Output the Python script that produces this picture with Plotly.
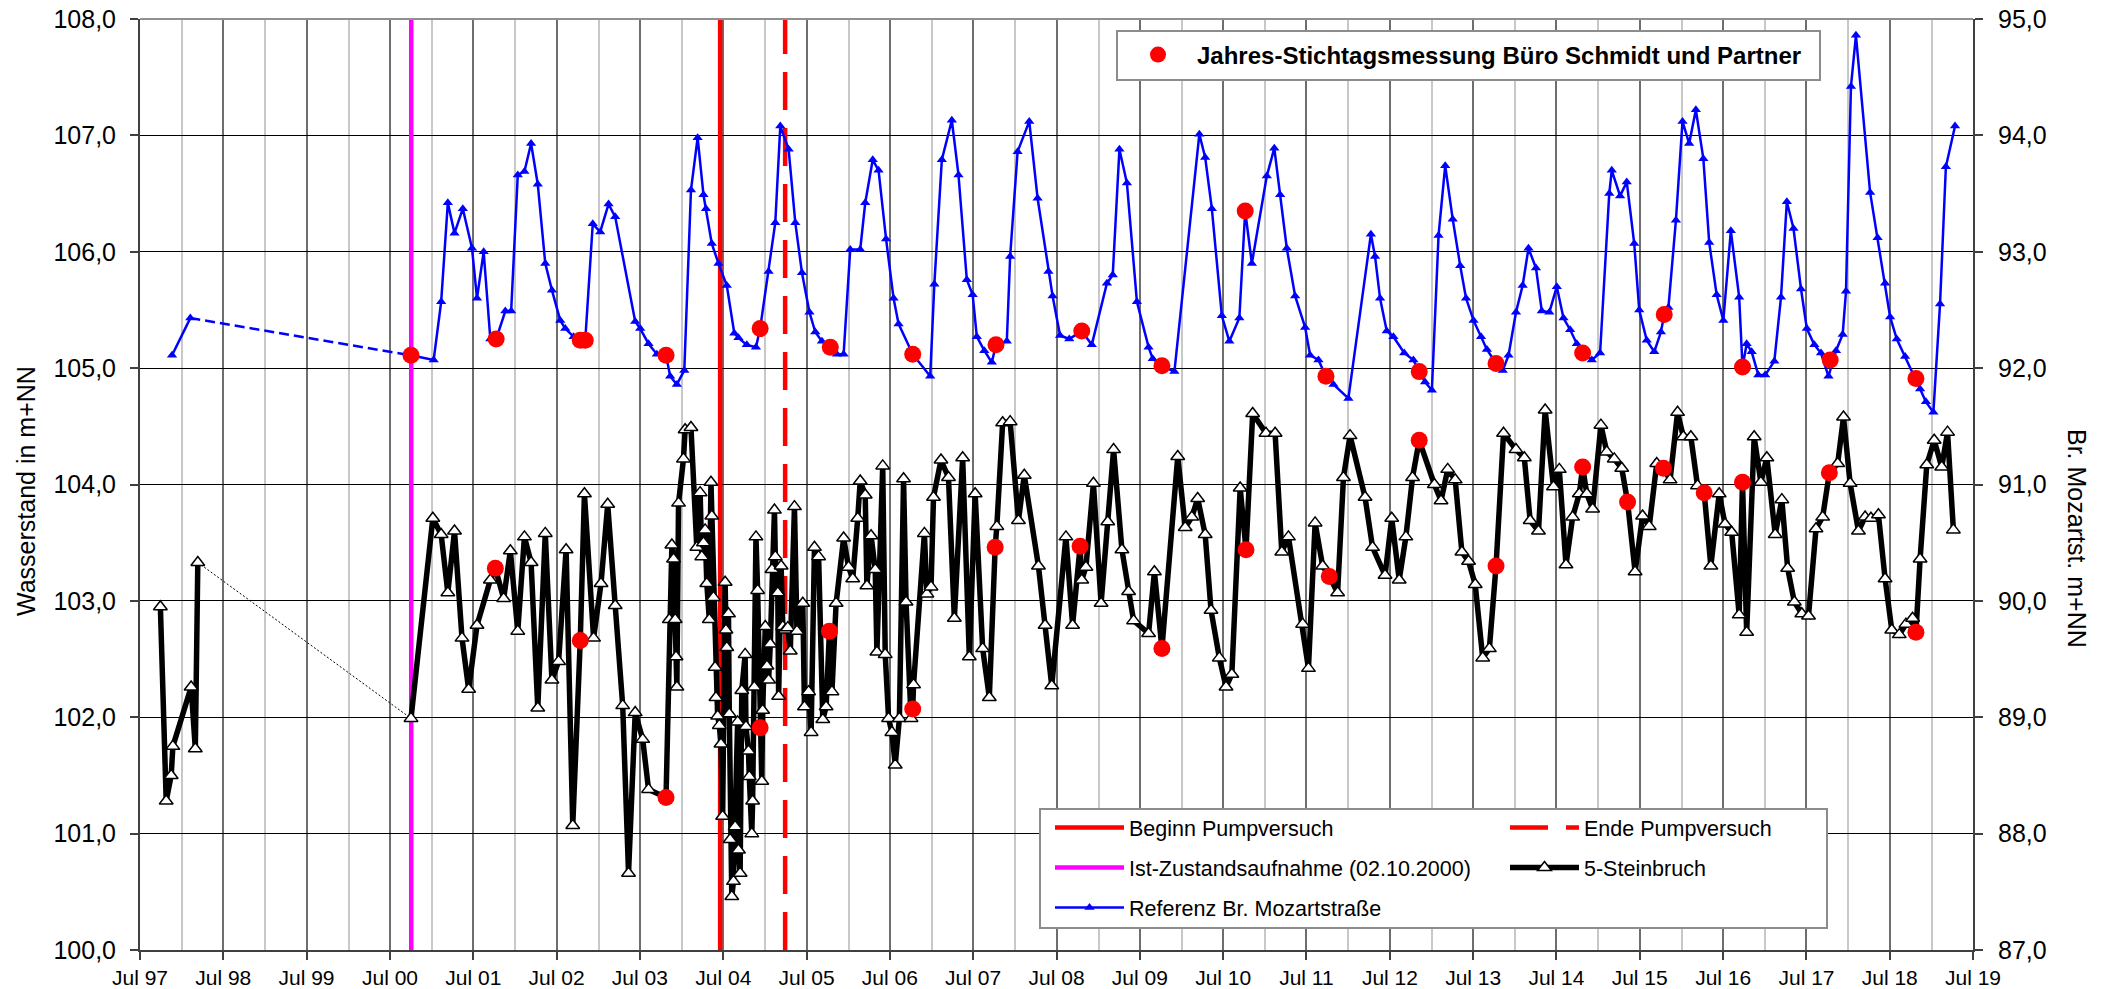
import pandas as pd
import plotly.graph_objects as go

# ---------------- data (x as decimal years) ----------------
# 5-Steinbruch (left axis, m+NN)
STEIN_A_YEAR = [1997.74, 1997.81, 1997.87, 1997.89, 1998.11, 1998.16, 1998.19]
STEIN_A_VAL = [102.95, 101.28, 101.50, 101.75, 102.26, 101.73, 103.33]

STEIN_B_YEAR = [
    2000.75, 2001.01, 2001.11, 2001.19, 2001.27, 2001.36, 2001.44, 2001.54, 2001.70, 2001.76,
    2001.86, 2001.94, 2002.03, 2002.11, 2002.19, 2002.27, 2002.36, 2002.44, 2002.52, 2002.61,
    2002.69, 2002.78, 2002.83, 2002.94, 2003.03, 2003.11, 2003.20, 2003.29, 2003.36, 2003.44,
    2003.53, 2003.60, 2003.81, 2003.85, 2003.88, 2003.90, 2003.92, 2003.93, 2003.94, 2003.96,
    2004.02, 2004.04, 2004.11, 2004.18, 2004.22, 2004.24, 2004.26, 2004.28, 2004.30, 2004.33,
    2004.35, 2004.36, 2004.38, 2004.40, 2004.41, 2004.43, 2004.45, 2004.47, 2004.49, 2004.52,
    2004.53, 2004.54, 2004.56, 2004.57, 2004.58, 2004.60, 2004.62, 2004.64, 2004.67, 2004.68,
    2004.70, 2004.72, 2004.76, 2004.77, 2004.80, 2004.81, 2004.84, 2004.85, 2004.87, 2004.89,
    2004.91, 2004.94, 2004.96, 2004.97, 2005.00, 2005.02, 2005.04, 2005.06, 2005.08, 2005.11,
    2005.12, 2005.15, 2005.16, 2005.19, 2005.21, 2005.24, 2005.27, 2005.30, 2005.35, 2005.38,
    2005.45, 2005.47, 2005.52, 2005.55, 2005.59, 2005.64, 2005.69, 2005.73, 2005.77, 2005.80,
    2005.85, 2005.94, 2006.00, 2006.05, 2006.11, 2006.14, 2006.20, 2006.22, 2006.27, 2006.32,
    2006.34, 2006.41, 2006.44, 2006.48, 2006.52, 2006.56, 2006.61, 2006.66, 2006.69, 2006.75,
    2006.77, 2006.78, 2006.91, 2006.94, 2006.99, 2007.02, 2007.11, 2007.20, 2007.27, 2007.37,
    2007.45, 2007.52, 2007.61, 2007.69, 2007.76, 2007.78, 2007.85, 2007.94, 2008.04, 2008.11,
    2008.28, 2008.36, 2008.44, 2008.61, 2008.69, 2008.78, 2008.80, 2008.85, 2008.94, 2009.03,
    2009.11, 2009.18, 2009.28, 2009.36, 2009.42, 2009.60, 2009.67, 2009.76, 2009.95, 2010.04,
    2010.12, 2010.19, 2010.28, 2010.35, 2010.45, 2010.53, 2010.60, 2010.70, 2010.77, 2010.85,
    2011.01, 2011.12, 2011.20, 2011.28, 2011.45, 2011.52, 2011.60, 2011.69, 2011.77, 2011.87,
    2011.94, 2012.02, 2012.20, 2012.29, 2012.44, 2012.52, 2012.61, 2012.69, 2012.77, 2012.85,
    2013.03, 2013.11, 2013.19, 2013.28, 2013.36, 2013.44, 2013.52, 2013.61, 2013.69, 2013.77,
    2013.86, 2014.01, 2014.11, 2014.18, 2014.28, 2014.36, 2014.46, 2014.53, 2014.61, 2014.69,
    2014.77, 2014.81, 2014.86, 2014.93, 2015.03, 2015.10, 2015.19, 2015.28, 2015.35, 2015.44,
    2015.53, 2015.61, 2015.70, 2015.78, 2015.86, 2015.95, 2016.02, 2016.11, 2016.19, 2016.27,
    2016.35, 2016.45, 2016.52, 2016.60, 2016.69, 2016.73, 2016.78, 2016.87, 2016.95, 2017.02,
    2017.12, 2017.20, 2017.27, 2017.35, 2017.44, 2017.52, 2017.61, 2017.69, 2017.77, 2017.87,
    2017.94, 2018.02, 2018.12, 2018.20, 2018.27, 2018.36, 2018.44, 2018.52, 2018.61, 2018.69,
    2018.77, 2018.81, 2018.86, 2018.94, 2019.03, 2019.12, 2019.19, 2019.26,
]
STEIN_B_VAL = [
    101.99, 103.71, 103.57, 103.07, 103.60, 102.68, 102.24, 102.79, 103.18, 103.28,
    103.02, 103.43, 102.74, 103.55, 103.33, 102.08, 103.58, 102.32, 102.48, 103.44,
    101.07, 102.66, 103.92, 102.68, 103.15, 103.83, 102.96, 102.10, 100.66, 102.04,
    101.81, 101.38, 101.31, 102.84, 103.48, 103.36, 102.84, 102.52, 102.26, 103.84,
    104.22, 104.47, 104.49, 103.46, 103.93, 103.38, 103.50, 103.61, 103.15, 102.84,
    104.02, 103.73, 103.03, 102.43, 102.17, 102.01, 101.93, 101.77, 101.15, 103.16,
    102.75, 102.60, 102.89, 102.03, 100.95, 100.46, 100.59, 101.06, 101.96, 100.86,
    100.66, 102.23, 102.54, 101.92, 101.71, 101.49, 101.00, 101.28, 102.26, 103.55,
    103.09, 101.91, 101.45, 102.06, 102.78, 102.44, 102.32, 102.63, 103.27, 103.78,
    103.38, 103.07, 102.18, 103.30, 102.78, 102.75, 102.77, 102.57, 103.81, 102.74,
    102.98, 102.09, 102.22, 101.87, 103.46, 103.38, 101.98, 102.09, 102.74, 102.22,
    102.98, 103.54, 103.29, 103.19, 103.71, 104.03, 103.91, 103.13, 103.56, 103.27,
    102.56, 104.16, 102.54, 101.99, 101.87, 101.59, 101.99, 104.05, 102.99, 101.99,
    102.07, 102.28, 103.58, 103.06, 103.12, 103.89, 104.21, 104.06, 102.85, 104.23,
    102.52, 103.92, 102.59, 102.17, 103.46, 103.64, 104.53, 104.54, 103.69, 104.08,
    103.30, 102.79, 102.27, 103.55, 102.79, 103.47, 103.18, 103.29, 104.01, 102.98,
    103.68, 104.30, 103.44, 103.08, 102.83, 102.72, 103.25, 102.59, 104.24, 103.63,
    103.72, 103.88, 103.57, 102.92, 102.51, 102.26, 102.37, 103.97, 103.44, 104.61,
    104.44, 104.44, 103.42, 103.55, 102.80, 102.42, 103.67, 103.30, 103.21, 103.07,
    104.06, 104.42, 103.89, 103.46, 103.22, 103.71, 103.18, 103.55, 104.06, 104.38,
    104.00, 103.86, 104.13, 104.04, 103.42, 103.34, 103.14, 102.51, 102.59, 103.30,
    104.44, 104.30, 104.23, 103.69, 103.60, 104.64, 103.98, 104.13, 103.31, 103.72,
    103.92, 104.15, 103.92, 103.79, 104.51, 104.28, 104.22, 104.14, 103.85, 103.25,
    103.73, 103.64, 104.18, 104.14, 104.04, 104.62, 104.41, 104.41, 103.99, 103.93,
    103.30, 103.92, 103.66, 103.59, 102.88, 104.02, 102.73, 104.41, 104.02, 104.23,
    103.57, 103.87, 103.28, 102.99, 102.89, 102.87, 103.62, 103.72, 104.10, 104.18,
    104.58, 104.01, 103.60, 103.72, 103.71, 103.74, 103.19, 102.75, 102.71, 102.80,
    102.85, 102.73, 103.36, 104.17, 104.38, 104.15, 104.45, 103.61,
]

# Referenz Br. Mozartstrasse (right axis, m+NN)
MOZ_A_YEAR = [1997.88, 1998.10]
MOZ_A_VAL = [92.11, 92.43]

MOZ_B_YEAR = [
    2000.75, 2001.02, 2001.11, 2001.19, 2001.27, 2001.37, 2001.48, 2001.54, 2001.62, 2001.70,
    2001.77, 2001.88, 2001.95, 2002.03, 2002.11, 2002.19, 2002.27, 2002.36, 2002.44, 2002.54,
    2002.60, 2002.70, 2002.78, 2002.84, 2002.93, 2003.02, 2003.12, 2003.20, 2003.44, 2003.50,
    2003.60, 2003.70, 2003.81, 2003.86, 2003.94, 2004.03, 2004.11, 2004.19, 2004.26, 2004.29,
    2004.36, 2004.44, 2004.54, 2004.63, 2004.68, 2004.78, 2004.89, 2004.94, 2005.04, 2005.12,
    2005.18, 2005.28, 2005.36, 2005.44, 2005.53, 2005.60, 2005.68, 2005.78, 2005.86, 2005.94,
    2006.02, 2006.14, 2006.20, 2006.29, 2006.36, 2006.45, 2006.54, 2006.60, 2006.77, 2006.98,
    2007.03, 2007.12, 2007.24, 2007.32, 2007.42, 2007.49, 2007.54, 2007.63, 2007.72, 2007.77,
    2007.90, 2007.94, 2008.03, 2008.17, 2008.27, 2008.40, 2008.45, 2008.54, 2008.65, 2008.80,
    2008.92, 2009.10, 2009.17, 2009.25, 2009.34, 2009.46, 2009.60, 2009.65, 2009.76, 2009.91,
    2010.21, 2010.28, 2010.36, 2010.48, 2010.57, 2010.69, 2010.76, 2010.84, 2011.02, 2011.11,
    2011.18, 2011.26, 2011.36, 2011.48, 2011.54, 2011.64, 2011.73, 2011.82, 2012.00, 2012.27,
    2012.32, 2012.38, 2012.46, 2012.54, 2012.67, 2012.78, 2012.85, 2012.92, 2013.00, 2013.08,
    2013.16, 2013.25, 2013.34, 2013.41, 2013.50, 2013.59, 2013.66, 2013.77, 2013.85, 2013.92,
    2014.01, 2014.09, 2014.16, 2014.25, 2014.32, 2014.41, 2014.50, 2014.58, 2014.66, 2014.74,
    2014.81, 2014.92, 2015.02, 2015.13, 2015.16, 2015.26, 2015.34, 2015.43, 2015.49, 2015.58,
    2015.67, 2015.75, 2015.79, 2015.84, 2015.93, 2016.01, 2016.09, 2016.17, 2016.26, 2016.33,
    2016.42, 2016.50, 2016.59, 2016.69, 2016.73, 2016.78, 2016.84, 2016.92, 2017.00, 2017.11,
    2017.19, 2017.26, 2017.34, 2017.43, 2017.50, 2017.59, 2017.67, 2017.76, 2017.85, 2017.93,
    2017.97, 2018.03, 2018.09, 2018.26, 2018.35, 2018.44, 2018.50, 2018.58, 2018.68, 2018.81,
    2018.86, 2018.93, 2019.02, 2019.10, 2019.17, 2019.28,
]
MOZ_B_VAL = [
    92.11, 92.07, 92.57, 93.42, 93.16, 93.37, 93.03, 92.60, 93.00, 92.25,
    92.25, 92.49, 92.49, 93.66, 93.69, 93.93, 93.58, 92.90, 92.67, 92.41,
    92.34, 92.27, 92.24, 92.24, 93.24, 93.17, 93.41, 93.30, 92.40, 92.34,
    92.21, 92.12, 92.11, 91.93, 91.86, 91.98, 93.53, 93.98, 93.49, 93.37,
    93.07, 92.90, 92.71, 92.30, 92.26, 92.20, 92.18, 92.34, 92.83, 93.25,
    94.08, 93.88, 93.25, 92.82, 92.48, 92.31, 92.23, 92.18, 92.12, 92.12,
    93.02, 93.02, 93.42, 93.79, 93.70, 93.11, 92.60, 92.38, 92.12, 91.93,
    92.72, 93.79, 94.13, 93.66, 92.76, 92.63, 92.27, 92.15, 92.05, 92.20,
    92.23, 92.96, 93.86, 94.12, 93.46, 92.83, 92.62, 92.28, 92.25, 92.32,
    92.20, 92.73, 92.80, 93.88, 93.59, 92.57, 92.18, 92.08, 92.02, 91.97,
    94.01, 93.81, 93.37, 92.45, 92.23, 92.43, 93.35, 92.90, 93.65, 93.89,
    93.49, 93.03, 92.62, 92.35, 92.11, 92.07, 91.93, 91.86, 91.74, 93.15,
    92.96, 92.60, 92.32, 92.27, 92.13, 92.07, 91.97, 91.88, 91.81, 93.14,
    93.74, 93.28, 92.88, 92.60, 92.41, 92.27, 92.16, 92.04, 91.98, 92.11,
    92.48, 92.71, 93.03, 92.86, 92.49, 92.48, 92.70, 92.43, 92.33, 92.21,
    92.13, 92.07, 92.13, 93.50, 93.70, 93.48, 93.60, 93.07, 92.50, 92.24,
    92.14, 92.31, 92.46, 92.52, 93.27, 94.12, 93.93, 94.22, 93.80, 93.08,
    92.63, 92.41, 93.18, 92.61, 92.01, 92.21, 92.14, 91.94, 91.94, 92.06,
    92.61, 93.43, 93.20, 92.68, 92.34, 92.20, 92.13, 91.93, 92.15, 92.29,
    92.66, 94.42, 94.86, 93.51, 93.12, 92.73, 92.44, 92.25, 92.10, 91.91,
    91.82, 91.71, 91.62, 92.55, 93.73, 94.08,
]

# Jahres-Stichtagsmessung Buero Schmidt und Partner
STICH_MOZ_YEAR = [2000.75, 2001.77, 2002.78, 2002.84, 2003.81, 2004.94, 2005.78, 2006.77, 2007.77, 2008.80,
                  2009.76, 2010.76, 2011.73, 2012.85, 2013.77, 2014.81, 2015.79, 2016.73, 2017.78, 2018.81]
STICH_MOZ_VAL = [92.11, 92.25, 92.24, 92.24, 92.11, 92.34, 92.18, 92.12, 92.20, 92.32,
                 92.02, 93.35, 91.93, 91.97, 92.04, 92.13, 92.46, 92.01, 92.07, 91.91]
STICH_STEIN_YEAR = [2001.76, 2002.78, 2003.81, 2004.94, 2005.77, 2006.77, 2007.76, 2008.78, 2009.76, 2010.77,
                    2011.77, 2012.85, 2013.77, 2014.81, 2015.35, 2015.78, 2016.27, 2016.73, 2017.77, 2018.81]
STICH_STEIN_VAL = [103.28, 102.66, 101.31, 101.91, 102.74, 102.07, 103.46, 103.47, 102.59, 103.44,
                   103.21, 104.38, 103.30, 104.15, 103.85, 104.14, 103.93, 104.02, 104.10, 102.73]

# event markers (vertical lines)
DATE_IST = "2000-10-02"
DATE_BEGINN = "2004-06-17"
DATE_ENDE = "2005-03-29"

Y_LEFT_RANGE = [100, 108]
Y_RIGHT_RANGE = [87, 95]
X_RANGE = ["1997-07-01", "2019-07-01"]


def to_date(years):
    out = []
    for yf in years:
        y = int(yf)
        ts = pd.Timestamp(year=y, month=1, day=1) + pd.Timedelta(days=(yf - y) * 365.25)
        out.append(ts.strftime("%Y-%m-%d %H:%M"))
    return out


FONT = "Liberation Sans, Arial, sans-serif"

fig = go.Figure()

# vertical event lines
fig.add_trace(go.Scatter(x=[DATE_BEGINN, DATE_BEGINN], y=Y_LEFT_RANGE, mode="lines",
                         line=dict(color="#FF0000", width=4.5), name="Beginn Pumpversuch",
                         legend="legend2", legendgroup="g1"))
fig.add_trace(go.Scatter(x=[DATE_ENDE, DATE_ENDE], y=Y_LEFT_RANGE, mode="lines",
                         line=dict(color="#FF0000", width=4.5, dash="38px,18px"), name="Ende Pumpversuch",
                         legend="legend3", legendgroup="g2"))
fig.add_trace(go.Scatter(x=[DATE_IST, DATE_IST], y=Y_LEFT_RANGE, mode="lines",
                         line=dict(color="#FF00FF", width=4.5), name="Ist-Zustandsaufnahme (02.10.2000)",
                         legend="legend2", legendgroup="g3"))

# Referenz Br. Mozartstrasse (right axis)
fig.add_trace(go.Scatter(x=to_date(MOZ_A_YEAR), y=MOZ_A_VAL, mode="lines+markers", yaxis="y2",
                         line=dict(color="#0000FF", width=2.5),
                         marker=dict(symbol="triangle-up", size=9, color="#0000FF"),
                         showlegend=False, legendgroup="g5", legend="legend2"))
fig.add_trace(go.Scatter(x=to_date([MOZ_A_YEAR[-1], MOZ_B_YEAR[0]]), y=[MOZ_A_VAL[-1], MOZ_B_VAL[0]],
                         mode="lines", yaxis="y2", line=dict(color="#0000FF", width=2.5, dash="10px,5px"),
                         showlegend=False, legendgroup="g5", legend="legend2"))
fig.add_trace(go.Scatter(x=to_date(MOZ_B_YEAR), y=MOZ_B_VAL, mode="lines+markers", yaxis="y2",
                         line=dict(color="#0000FF", width=2.5),
                         marker=dict(symbol="triangle-up", size=9, color="#0000FF"),
                         name="Referenz Br. Mozartstraße", legend="legend2", legendgroup="g5"))

# 5-Steinbruch (left axis)
fig.add_trace(go.Scatter(x=to_date([STEIN_A_YEAR[-1], STEIN_B_YEAR[0]]), y=[STEIN_A_VAL[-1], STEIN_B_VAL[0]],
                         mode="lines", line=dict(color="#000000", width=1, dash="2px,2px"),
                         showlegend=False, legendgroup="g4", legend="legend3"))
stein_marker = dict(symbol="triangle-up", size=12, color="#FFFFFF", line=dict(color="#000000", width=1.5))
fig.add_trace(go.Scatter(x=to_date(STEIN_A_YEAR), y=STEIN_A_VAL, mode="lines+markers",
                         line=dict(color="#000000", width=5.5), marker=stein_marker,
                         showlegend=False, legendgroup="g4", legend="legend3"))
fig.add_trace(go.Scatter(x=to_date(STEIN_B_YEAR), y=STEIN_B_VAL, mode="lines+markers",
                         line=dict(color="#000000", width=5.5), marker=stein_marker,
                         name="5-Steinbruch", legend="legend3", legendgroup="g4"))

# Stichtagsmessungen
fig.add_trace(go.Scatter(x=to_date(STICH_MOZ_YEAR), y=STICH_MOZ_VAL, mode="markers", yaxis="y2",
                         marker=dict(symbol="circle", size=17, color="#FF0000"),
                         name="Jahres-Stichtagsmessung Büro Schmidt und Partner", legend="legend",
                         legendgroup="g6"))
fig.add_trace(go.Scatter(x=to_date(STICH_STEIN_YEAR), y=STICH_STEIN_VAL, mode="markers",
                         marker=dict(symbol="circle", size=17, color="#FF0000"),
                         showlegend=False, legend="legend", legendgroup="g6"))

# page geometry: plot area at x 140..1973, y 19..950 of the 2109x989 window
W, H = 2109, 989
L, R, T, B = 140, 136, 19, 39
PW, PH = W - L - R, H - T - B


def px(xp):
    return (xp - L) / PW


def py(yp):
    return 1 - (yp - T) / PH


axis_line = "#404040"
fig.update_layout(
    width=W, height=H,
    margin=dict(l=L, r=R, t=T, b=B, autoexpand=False),
    paper_bgcolor="white", plot_bgcolor="white",
    separators=",.",
    font=dict(family=FONT, color="black"),
    xaxis=dict(type="date", range=X_RANGE, dtick="M12", tick0="1997-07-01", tickformat="%b %y",
               showgrid=True, gridcolor="#6e6e6e", gridwidth=2, automargin=False,
               minor=dict(dtick="M6", tick0="1998-01-01", showgrid=True, gridcolor="#c8c8c8", gridwidth=2),
               showline=True, linecolor=axis_line, linewidth=2, ticklabeloverflow="allow",
               ticks="outside", ticklen=8, tickwidth=1.5, tickcolor=axis_line,
               tickfont=dict(size=21, family=FONT), zeroline=False),
    yaxis=dict(range=Y_LEFT_RANGE, dtick=1, tick0=100, tickformat=".1f", automargin=False,
               showgrid=True, gridcolor="#000000", gridwidth=1, ticklabeloverflow="allow",
               showline=True, linecolor=axis_line, linewidth=2, ticklabelstandoff=9,
               ticks="outside", ticklen=8, tickwidth=1.5, tickcolor=axis_line,
               tickfont=dict(size=25, family=FONT), zeroline=False),
    yaxis2=dict(range=Y_RIGHT_RANGE, dtick=1, tick0=87, tickformat=".1f", overlaying="y", side="right",
                showgrid=False, showline=True, linecolor=axis_line, linewidth=2, automargin=False,
                ticklabelstandoff=10, ticklabeloverflow="allow",
                ticks="outside", ticklen=8, tickwidth=1.5, tickcolor=axis_line,
                tickfont=dict(size=25, family=FONT), zeroline=False),
    legend=dict(x=px(1119), y=py(55), xanchor="left", yanchor="middle", bgcolor="rgba(0,0,0,0)",
                borderwidth=0, itemwidth=68, font=dict(size=24, family=FONT, weight="bold")),
    legend2=dict(x=px(1050), y=py(807), xanchor="left", yanchor="top", bgcolor="rgba(0,0,0,0)",
                 borderwidth=0, tracegroupgap=9, itemwidth=69, font=dict(size=21.5, family=FONT)),
    legend3=dict(x=px(1505), y=py(807), xanchor="left", yanchor="top", bgcolor="rgba(0,0,0,0)",
                 borderwidth=0, tracegroupgap=9, itemwidth=69, font=dict(size=21.5, family=FONT)),
    shapes=[
        dict(type="line", xref="paper", yref="paper", x0=0, x1=1, y0=1, y1=1,
             line=dict(color="#909090", width=2), layer="above"),
        dict(type="rect", xref="paper", yref="paper", x0=px(1117), x1=px(1820), y0=py(80), y1=py(31),
             fillcolor="white", line=dict(color="#8c8c8c", width=2), layer="above"),
        dict(type="rect", xref="paper", yref="paper", x0=px(1040), x1=px(1827), y0=py(928), y1=py(809),
             fillcolor="white", line=dict(color="#8c8c8c", width=2), layer="above"),
    ],
    annotations=[
        dict(text="Wasserstand in m+NN", xref="paper", yref="paper", x=px(26), y=py(491),
             textangle=-90, showarrow=False, xanchor="center", yanchor="middle",
             font=dict(size=25, family=FONT)),
        dict(text="Br. Mozartst. m+NN", xref="paper", yref="paper", x=px(2077), y=py(538),
             textangle=90, showarrow=False, xanchor="center", yanchor="middle",
             font=dict(size=25, family=FONT)),
    ],
)

# remove the default 8px page margin so the figure fills the window exactly; hide the modebar
fig.write_html("out.html",
               config={"displayModeBar": False},
               post_script="document.body.style.margin='0';document.body.style.padding='0';"
                           "document.body.style.overflow='hidden';")
